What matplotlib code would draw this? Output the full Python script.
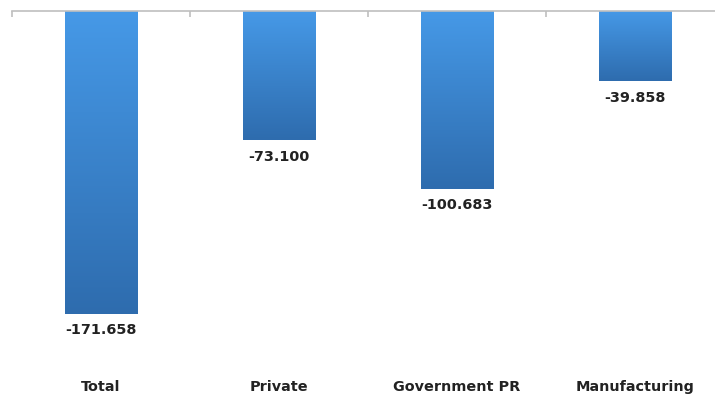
import numpy as np
import matplotlib
matplotlib.use("Agg")
import matplotlib.pyplot as plt
from matplotlib.colors import LinearSegmentedColormap

categories = ["Total", "Private", "Government PR", "Manufacturing"]
values = [-171.658, -73.100, -100.683, -39.858]
value_labels = ["-171.658", "-73.100", "-100.683", "-39.858"]

W, H = 715, 399
fig = plt.figure(figsize=(W / 100, H / 100), dpi=100)
fig.patch.set_facecolor("white")

# axes: zero line near the top edge, plotting area extends downward
x0_px, y0_px = 12, 11
px_per_cat = 178
px_per_unit = 1.763
ax_w_px = W - x0_px
ax_h_px = 330
ax = fig.add_axes([x0_px / W, 1 - (y0_px + ax_h_px) / H, ax_w_px / W, ax_h_px / H])

cmap = LinearSegmentedColormap.from_list("barfill", ["#4699E7", "#2E6CAE"])
bar_w = 0.405
grad = np.linspace(0, 1, 256).reshape(-1, 1)

bars = ax.bar(range(len(values)), values, width=bar_w, color="none",
              edgecolor="none", zorder=2)
for bar, v in zip(bars, values):
    x = bar.get_x()
    im = ax.imshow(grad, extent=[x, x + bar_w, v, 0], origin="upper",
                   aspect="auto", cmap=cmap, zorder=2)
    im.set_clip_path(bar)

for i, (v, lab) in enumerate(zip(values, value_labels)):
    ax.annotate(lab, (i, v), xytext=(0, -12), textcoords="offset points",
                ha="center", va="center", fontsize=10.4, fontweight="bold",
                color="#222222", family="DejaVu Sans")

for s in ["left", "right", "bottom"]:
    ax.spines[s].set_visible(False)
ax.spines["top"].set_color("#BFBFBF")
ax.spines["top"].set_linewidth(1.2)
ax.set_yticks([])
ax.xaxis.set_ticks_position("top")
ax.set_xticks([-0.5, 0.5, 1.5, 2.5, 3.5])
ax.set_xticklabels([])
ax.tick_params(axis="x", direction="in", length=4.5, color="#BFBFBF", width=1.2)

ax.set_ylim(-ax_h_px / px_per_unit, 0)
ax.set_xlim(-0.5, -0.5 + ax_w_px / px_per_cat)

for i, c in enumerate(categories):
    fig.text((x0_px + (i + 0.5) * px_per_cat) / W, 1 - 387 / H, c,
             ha="center", va="center", fontsize=10.4, fontweight="bold",
             color="#222222", family="DejaVu Sans")

fig.savefig("out.png", dpi=100, facecolor="white")
